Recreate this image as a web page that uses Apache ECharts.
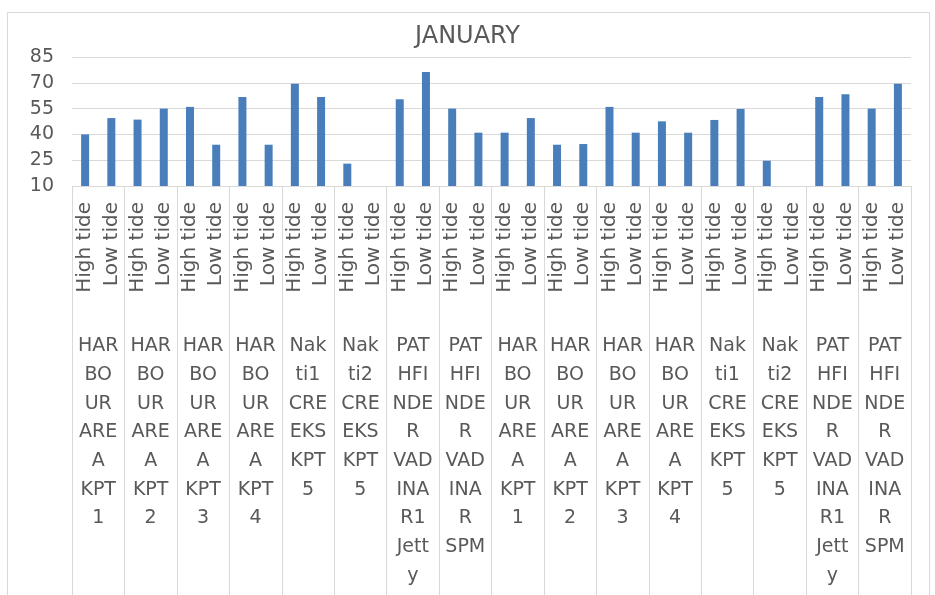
<!DOCTYPE html>
<html>
<head>
<meta charset="utf-8">
<title>JANUARY</title>
<script src="https://cdn.jsdelivr.net/npm/echarts@6/dist/echarts.min.js"></script>
<style>
  html, body { margin: 0; padding: 0; background: #fff; }
  #chart { width: 935px; height: 595px; }
</style>
</head>
<body>
<div id="chart"></div>
<script>
// 潮位类别
let tides = ['High tide', 'Low tide']
// 站点（按图上的换行显示）
let groups = [
  'HAR\nBO\nUR\nARE\nA\nKPT\n1',
  'HAR\nBO\nUR\nARE\nA\nKPT\n2',
  'HAR\nBO\nUR\nARE\nA\nKPT\n3',
  'HAR\nBO\nUR\nARE\nA\nKPT\n4',
  'Nak\nti1\nCRE\nEKS\nKPT\n5',
  'Nak\nti2\nCRE\nEKS\nKPT\n5',
  'PAT\nHFI\nNDE\nR\nVAD\nINA\nR1\nJett\ny',
  'PAT\nHFI\nNDE\nR\nVAD\nINA\nR\nSPM',
  'HAR\nBO\nUR\nARE\nA\nKPT\n1',
  'HAR\nBO\nUR\nARE\nA\nKPT\n2',
  'HAR\nBO\nUR\nARE\nA\nKPT\n3',
  'HAR\nBO\nUR\nARE\nA\nKPT\n4',
  'Nak\nti1\nCRE\nEKS\nKPT\n5',
  'Nak\nti2\nCRE\nEKS\nKPT\n5',
  'PAT\nHFI\nNDE\nR\nVAD\nINA\nR1\nJett\ny',
  'PAT\nHFI\nNDE\nR\nVAD\nINA\nR\nSPM'
]
// 数据
let highTide = [40, 48.6, 56, 61.7, 69.5, 23, 60.4, 55, 41, 34, 56, 47.6, 48.4, 24.7, 61.7, 55]
let lowTide = [49.5, 55, 34, 34, 61.7, null, 76.3, 41, 49.5, 34.4, 41, 41, 54.8, null, 63.3, 69.5]
// Y轴
let yMin = 10
let yMax = 85
let yStep = 15

let FONT = 'DejaVu Sans'
let TEXT_COLOR = '#595959'
let LINE_COLOR = '#d9d9d9'

// 把两级分类展开成一列
let categories = []
let values = []
groups.forEach((g, i) => {
  categories.push(tides[0], tides[1])
  values.push(highTide[i], lowTide[i])
})

let chart = echarts.init(document.getElementById('chart'))
chart.setOption({
  animation: false,
  textStyle: { fontFamily: FONT },
  title: {
    text: 'JANUARY',
    left: 'center',
    top: 20,
    textStyle: {
      fontFamily: FONT,
      fontSize: 24,
      fontWeight: 'normal',
      color: TEXT_COLOR
    }
  },
  // 外框
  graphic: [{
    type: 'rect',
    left: 5,
    top: 10,
    shape: { width: 922, height: 620 },
    style: { fill: 'none', stroke: LINE_COLOR, lineWidth: 1 },
    silent: true
  }],
  grid: {
    left: 72,
    right: 24,
    top: 57,
    bottom: 409
  },
  xAxis: [{
    type: 'category',
    data: categories,
    position: 'bottom',
    axisLine: { show: true, lineStyle: { color: LINE_COLOR } },
    axisTick: { show: false },
    axisLabel: {
      interval: 0,
      rotate: 90,
      margin: 16,
      fontFamily: FONT,
      fontSize: 20,
      color: TEXT_COLOR
    }
  }, {
    type: 'category',
    data: groups,
    position: 'bottom',
    axisLine: { show: false },
    // 分组分隔线
    axisTick: {
      show: true,
      interval: 0,
      length: 420,
      lineStyle: { color: LINE_COLOR, width: 1 }
    },
    axisLabel: {
      interval: 0,
      margin: 146,
      verticalAlign: 'top',
      fontFamily: FONT,
      fontSize: 19,
      lineHeight: 28.7,
      color: TEXT_COLOR
    }
  }],
  yAxis: {
    type: 'value',
    min: yMin,
    max: yMax,
    interval: yStep,
    axisLine: { show: false },
    axisTick: { show: false },
    axisLabel: {
      margin: 18,
      fontFamily: FONT,
      fontSize: 19,
      color: TEXT_COLOR
    },
    splitLine: { lineStyle: { color: LINE_COLOR } }
  },
  series: [{
    type: 'bar',
    xAxisIndex: 0,
    data: values,
    barWidth: 8,
    itemStyle: { color: '#4a7ebb' }
  }]
})
</script>
</body>
</html>
